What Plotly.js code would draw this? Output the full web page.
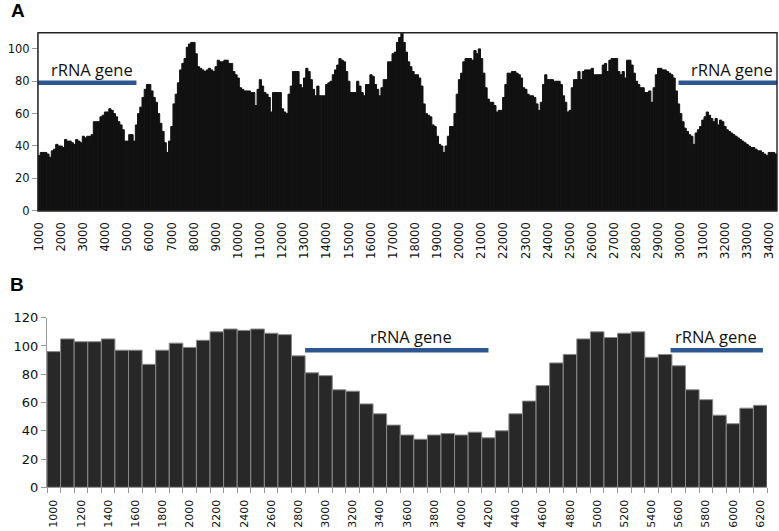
<!DOCTYPE html>
<html><head><meta charset="utf-8">
<script src="https://cdn.plot.ly/plotly-3.0.1.min.js"></script>
<style>html,body{margin:0;padding:0;background:#fff}#chart{width:779px;height:531px}</style>
</head><body><div id="chart"></div>
<script>
// ---------- Panel A data (window start positions, step 100) ----------
const startA = 1000, stepA = 100;
const coverageA = [
 34,36,36,36,35,33,37,38,41,40,
 40,39,44,43,43,42,41,44,43,42,
 46,45,46,46,47,55,55,55,58,59,
 61,61,63,62,60,58,55,53,50,43,
 43,47,47,43,53,60,64,70,75,78,
 78,74,70,67,60,54,49,42,36,43,
 52,66,72,79,87,91,94,101,103,104,
 104,97,89,88,87,86,87,88,87,86,
 89,93,92,92,93,93,91,91,86,84,
 82,76,75,74,74,74,73,73,65,75,
 81,77,73,72,70,61,73,73,73,73,
 63,61,60,72,77,86,86,86,78,76,
 82,88,86,81,75,71,77,71,71,71,
 78,79,80,84,87,90,94,93,92,86,
 80,73,73,73,80,77,73,71,78,78,
 84,83,78,75,71,76,81,81,92,92,
 97,98,104,107,110,104,98,92,89,86,
 84,84,82,77,66,60,59,58,53,52,
 46,41,40,36,40,46,52,52,60,72,
 81,85,92,94,94,94,93,99,97,100,
 94,85,76,69,67,67,65,61,62,62,
 70,78,85,85,86,86,85,84,82,76,
 75,72,71,71,70,66,62,67,78,84,
 81,81,81,80,80,80,78,71,67,61,
 62,76,81,81,86,81,86,87,87,87,
 88,84,84,84,84,90,91,86,93,94,
 94,94,86,84,86,82,93,93,90,85,
 80,78,76,76,73,73,74,67,76,84,
 88,88,87,87,86,85,84,82,74,66,
 60,55,51,49,47,46,41,48,50,52,
 56,58,61,59,57,55,57,53,56,55,
 52,50,49,48,47,46,45,44,43,42,
 41,40,39,39,38,37,37,36,35,34,
 36,36,36,35
];
const positionsA = coverageA.map((_, i) => startA + stepA * i);
const tickValsA = [];
for (let v = 1000; v <= 34000; v += 1000) tickValsA.push(v);
const tickTextA = tickValsA.map(String);
const rrnaStartA = [950, 29900];
const rrnaEndA = [5400, 34350];
const rrnaLevelA = [79, 79];
const rrnaLabelXA = [3380, 32320];
const rrnaLabelYA = [87.5, 87.5];

// ---------- Panel B data ----------
const positionsB = [1000,1100,1200,1300,1400,1500,1600,1700,1800,1900,
 2000,2100,2200,2300,2400,2500,2600,2700,2800,2900,
 3000,3100,3200,3300,3400,3500,3600,3700,3800,3900,
 4000,4100,4200,4300,4400,4500,4600,4700,4800,4900,
 5000,5100,5200,5300,5400,5500,5600,5700,5800,5900,
 6000,6100,6200];
const coverageB = [96,105,103,103,105,97,97,87,97,102,
 99,104,110,112,111,112,109,108,93,81,
 79,69,68,59,52,44,37,34,37,38,
 37,39,35,40,52,61,72,88,94,105,
 110,106,109,110,92,94,86,69,62,51,
 45,56,58];
const tickValsB = positionsB.filter(v => (v - 1000) % 200 === 0);
const tickTextB = tickValsB.map(String);
const rrnaStartB = [2850, 5540];
const rrnaEndB = [4200, 6220];
const rrnaLevelB = [97, 97];
const rrnaLabelXB = [3633, 5878];
const rrnaLabelYB = [107, 107];

const W = 779, H = 531;
const px = v => v / W, py = v => 1 - v / H;

const traceA = {
  type: 'bar', x: positionsA, y: coverageA, xaxis: 'x', yaxis: 'y',
  width: stepA, marker: {color: '#111111', line: {color: '#111111', width: 1}},
  hoverinfo: 'skip'
};
const traceB = {
  type: 'bar', x: positionsB, y: coverageB, xaxis: 'x2', yaxis: 'y2',
  width: 100, marker: {color: '#282828', line: {color: '#8a8a8a', width: 1}},
  hoverinfo: 'skip'
};

const blue = '#2c5791';
const labelFont = {family: 'Open Sans, Lato, sans-serif', size: 16.5, color: '#111'};
const shapes = [];
const annotations = [];
rrnaStartA.forEach((s, i) => {
  shapes.push({type: 'line', xref: 'x', yref: 'y', x0: s, x1: rrnaEndA[i], y0: rrnaLevelA[i], y1: rrnaLevelA[i],
    line: {color: blue, width: 4.5}});
  annotations.push({xref: 'x', yref: 'y', x: rrnaLabelXA[i], y: rrnaLabelYA[i], text: 'rRNA gene', showarrow: false,
    font: labelFont, xanchor: 'center', yanchor: 'middle'});
});
rrnaStartB.forEach((s, i) => {
  shapes.push({type: 'line', xref: 'x2', yref: 'y2', x0: s, x1: rrnaEndB[i], y0: rrnaLevelB[i], y1: rrnaLevelB[i],
    line: {color: blue, width: 4.5}});
  annotations.push({xref: 'x2', yref: 'y2', x: rrnaLabelXB[i], y: rrnaLabelYB[i], text: 'rRNA gene', showarrow: false,
    font: labelFont, xanchor: 'center', yanchor: 'middle'});
});
// frame around panel A
shapes.push({type: 'rect', xref: 'x domain', yref: 'y domain', x0: 0, x1: 1, y0: 0, y1: 1,
  line: {color: '#222', width: 1.4}});

annotations.push({xref: 'paper', yref: 'paper', x: px(17.5), y: py(10.5), text: '<b>A</b>', showarrow: false,
  font: {family: 'Liberation Sans, Arial, sans-serif', size: 19, color: '#000'}, xanchor: 'center', yanchor: 'middle'});
annotations.push({xref: 'paper', yref: 'paper', x: px(16.5), y: py(284.5), text: '<b>B</b>', showarrow: false,
  font: {family: 'Liberation Sans, Arial, sans-serif', size: 19, color: '#000'}, xanchor: 'center', yanchor: 'middle'});

const tickFontA = {family: 'DejaVu Sans, sans-serif', size: 11.5, color: '#111'};
const tickFontBy = {family: 'DejaVu Sans, sans-serif', size: 13, color: '#111'};
const tickFontBx = {family: 'DejaVu Sans, sans-serif', size: 11, color: '#111'};

const layout = {
  width: W, height: H,
  margin: {l: 0, r: 0, t: 0, b: 0},
  paper_bgcolor: '#fff', plot_bgcolor: '#fff',
  showlegend: false, bargap: 0,
  xaxis: {
    domain: [px(38), px(777)], anchor: 'y', range: [950, 34350],
    tickmode: 'array', tickvals: tickValsA, ticktext: tickTextA, tickangle: -90,
    ticks: '', showline: true, linecolor: '#999', linewidth: 1,
    tickfont: tickFontA, ticklabelstandoff: 6,
    showgrid: false, zeroline: false, fixedrange: true
  },
  yaxis: {
    domain: [py(210.7), py(32.7)], anchor: 'x', range: [0, 110],
    tickmode: 'array', tickvals: [0, 20, 40, 60, 80, 100],
    ticks: 'outside', ticklen: 5, tickcolor: '#999', showline: true, linecolor: '#999', linewidth: 1,
    tickfont: tickFontA, showgrid: false, zeroline: false, fixedrange: true
  },
  xaxis2: {
    domain: [px(47), px(767)], anchor: 'y2', range: [950, 6250],
    tickmode: 'array', tickvals: tickValsB, ticktext: tickTextB, tickangle: -90,
    ticks: '', showline: true, linecolor: '#999', linewidth: 1,
    minor: {tickmode: 'linear', tick0: 950, dtick: 100, ticks: 'outside', ticklen: 5, tickcolor: '#999', showgrid: false},
    tickfont: tickFontBx, ticklabelstandoff: 7,
    showgrid: false, zeroline: false, fixedrange: true
  },
  yaxis2: {
    domain: [py(487.3), py(317.7)], anchor: 'x2', range: [0, 120],
    tickmode: 'array', tickvals: [0, 20, 40, 60, 80, 100, 120],
    ticks: 'outside', ticklen: 5, tickcolor: '#999', showline: true, linecolor: '#999', linewidth: 1,
    tickfont: tickFontBy, showgrid: false, zeroline: false, fixedrange: true
  },
  shapes: shapes,
  annotations: annotations
};

Plotly.newPlot('chart', [traceA, traceB], layout, {displayModeBar: false, staticPlot: true});
</script>
</body></html>
